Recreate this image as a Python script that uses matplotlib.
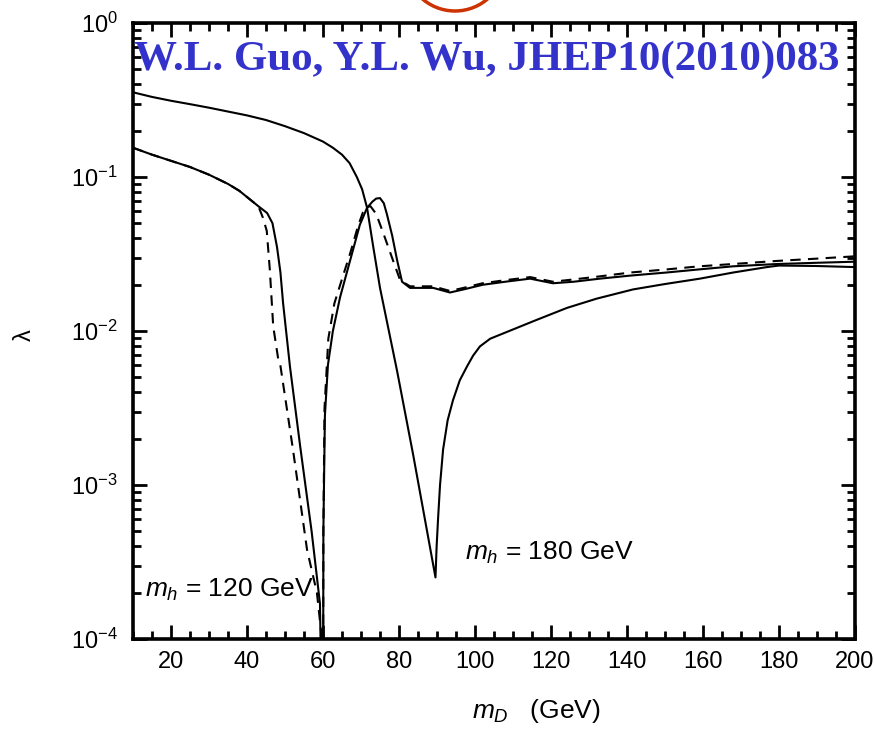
import numpy as np
import matplotlib
matplotlib.use("Agg")
import matplotlib.pyplot as plt
from matplotlib.patches import Ellipse
from matplotlib.ticker import LogLocator, MultipleLocator, LogFormatterSciNotation

plt.rcParams['font.family'] = ['Liberation Sans', 'DejaVu Sans']
plt.rcParams['mathtext.fontset'] = 'custom'
plt.rcParams['mathtext.rm'] = 'Liberation Sans'
plt.rcParams['mathtext.it'] = 'Liberation Sans:italic'
plt.rcParams['mathtext.default'] = 'regular'

# m_h = 120 GeV, solid  (x in GeV, log10 of lambda)
x120 = [10, 15, 20, 25, 30, 35, 38, 41, 43, 45.3, 46.7, 47.9, 48.8, 49.5, 51.3, 54, 57, 59.2, 60.0,
        60.1, 60.5, 61.3, 62.6, 64.5, 67.6, 69.7, 71.6, 73, 74, 75, 76, 76.8, 78.2, 79.5, 80.8, 82.9,
        89, 93.4, 97, 102, 108, 114.5, 120.5, 126, 132.9, 141, 150.5, 159, 167.9, 179.5, 190, 200]
l120 = [-0.81, -0.855, -0.895, -0.935, -0.985, -1.045, -1.09, -1.15, -1.19, -1.234, -1.30, -1.455,
        -1.62, -1.82, -2.23, -2.75, -3.30, -3.77, -5.0,
        -3.3, -2.55, -2.22, -2.00, -1.78, -1.50, -1.31, -1.20, -1.16, -1.14, -1.137, -1.17, -1.24,
        -1.38, -1.54, -1.68, -1.72,
        -1.72, -1.75, -1.73, -1.70, -1.68, -1.66, -1.69, -1.68, -1.66, -1.64, -1.62, -1.60, -1.58,
        -1.565, -1.557, -1.55]

# m_h = 120 GeV, dashed
x120d = [10, 15, 20, 25, 30, 35, 38, 41, 43, 44.2, 45.2, 46.0, 46.9, 48.2, 48.7, 52.1, 55.8, 58.4,
         59.5, 60.0, 60.1, 60.4, 61.4, 63, 65.8, 67.1, 69.2, 70.5, 71.5, 72.5, 74, 75.8, 78.4, 80.3,
         82.9, 89, 93.4, 97, 102, 108, 114.5, 120.5, 126, 132.9, 141, 150.5, 159, 167.9, 179.5, 190, 200]
l120d = [-0.81, -0.855, -0.895, -0.935, -0.985, -1.045, -1.09, -1.15, -1.19, -1.265, -1.35, -1.60,
         -1.97, -2.18, -2.21, -2.77, -3.42, -3.70, -3.95, -5.0,
         -3.3, -2.50, -2.05, -1.82, -1.60, -1.50, -1.32, -1.23, -1.195, -1.19, -1.24, -1.36, -1.54,
         -1.67, -1.71,
         -1.71, -1.74, -1.72, -1.69, -1.67, -1.65, -1.68, -1.665, -1.645, -1.62, -1.60, -1.58, -1.565,
         -1.545, -1.53, -1.515]

# m_h = 180 GeV, solid
x180 = [10, 15, 20, 25, 30, 35, 40, 45, 50, 55, 60, 62.6, 65, 67, 68.9, 70.3, 71.6, 73.2, 75, 79.5,
        83.7, 89.6, 89.9, 90.3, 90.8, 91.6, 92.8, 94.2, 96, 97.9, 99.5, 101.3, 104, 107, 111, 116,
        124.2, 132, 141.6, 150, 159.2, 168, 176.8, 180, 190, 200]
l180 = [-0.45, -0.48, -0.505, -0.527, -0.55, -0.575, -0.60, -0.63, -0.67, -0.715, -0.77, -0.81,
        -0.855, -0.91, -1.00, -1.08, -1.20, -1.45, -1.72, -2.26, -2.80,
        -3.60, -3.40, -3.21, -3.00, -2.77, -2.58, -2.45, -2.32, -2.23, -2.16, -2.10, -2.05, -2.02,
        -1.98, -1.93, -1.85, -1.79, -1.73, -1.695, -1.66, -1.62, -1.585, -1.575, -1.578, -1.585]

xticks = [20, 40, 60, 80, 100, 120, 140, 160, 180, 200]
title_text = "W.L. Guo, Y.L. Wu, JHEP10(2010)083"
label_120 = r"$\mathit{m}_{\mathit{h}}$ = 120 GeV"
label_180 = r"$\mathit{m}_{\mathit{h}}$ = 180 GeV"

fig = plt.figure(figsize=(8.74, 7.30), dpi=100)
ax = fig.add_axes([133/874, 1-639/730, (855-133)/874, (639-23)/730])

ax.plot(x120, 10**np.array(l120), color='black', lw=1.5)
ax.plot(x120d, 10**np.array(l120d), color='black', lw=1.5, ls=(0, (5, 3.5)))
ax.plot(x180, 10**np.array(l180), color='black', lw=1.5)

ax.set_yscale('log')
ax.set_xlim(10, 200)
ax.set_ylim(1e-4, 1)
ax.set_xticks(xticks)
ax.xaxis.set_minor_locator(MultipleLocator(5))
ax.yaxis.set_major_locator(LogLocator(base=10, numticks=10))
ax.yaxis.set_minor_locator(LogLocator(base=10, subs=np.arange(2, 10), numticks=20))
ax.yaxis.set_major_formatter(LogFormatterSciNotation())

for s in ax.spines.values():
    s.set_linewidth(2.6)
ax.tick_params(which='both', direction='in', top=True, right=True, width=2.0)
ax.tick_params(which='major', length=10, labelsize=17)
ax.tick_params(which='minor', length=5.5)
ax.tick_params(axis='x', which='major', pad=9)
ax.tick_params(axis='y', which='major', pad=11)

ax.set_xlabel(r"$\mathit{m}_{\mathit{D}}$   (GeV)", fontsize=19)
ax.xaxis.set_label_coords((536-133)/722, (639-697)/616)
ax.set_ylabel("λ", fontsize=17)
ax.yaxis.set_label_coords((36-133)/722, (639-335)/616)

ax.text(13.2, 10**-3.68, label_120, fontsize=19, va='center', ha='left')
ax.text(97.4, 10**-3.44, label_180, fontsize=19, va='center', ha='left')

fig.text(487/874, 1-60/730, title_text, color='#3333cc', fontsize=31, fontweight='bold',
         family='Liberation Serif', ha='center', va='center')

fig.patches.append(Ellipse((455/874, 1+39/730), 100/874, 100/730, transform=fig.transFigure,
                           fill=False, edgecolor='#cc3300', lw=2.5, figure=fig))

fig.savefig("out.png", dpi=100, facecolor='white')
